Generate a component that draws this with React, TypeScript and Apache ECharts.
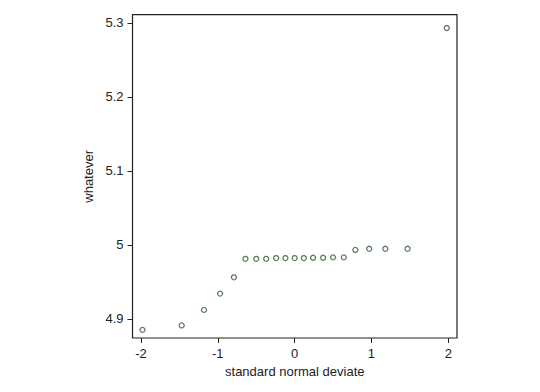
import React, { useEffect, useRef } from "react";
import * as echarts from "echarts";

const deviates = [-1.98, -1.47, -1.18, -0.97, -0.79, -0.64, -0.5, -0.37, -0.24, -0.12, 0, 0.12, 0.24, 0.37, 0.5, 0.64, 0.79, 0.97, 1.18, 1.47, 1.98];
const values = [4.885, 4.891, 4.912, 4.934, 4.956, 4.981, 4.981, 4.981, 4.982, 4.982, 4.982, 4.982, 4.9825, 4.9825, 4.983, 4.983, 4.993, 4.9946, 4.9946, 4.9946, 5.293];
const xTicks = [-2, -1, 0, 1, 2];
const yTicks = [4.9, 5, 5.1, 5.2, 5.3];

export default function App() {
  const ref = useRef<HTMLDivElement>(null);
  useEffect(() => {
    document.body.style.margin = "0";
    const chart = echarts.init(ref.current!, null, { renderer: "svg" });
    const font = "Liberation Sans, Arial, sans-serif";
    chart.setOption({
      animation: false,
      backgroundColor: "#fff",
      grid: { left: 132.5, right: 83, top: 14.7, bottom: 54, show: true, borderColor: "#222", borderWidth: 1.2, containLabel: false },
      xAxis: {
        type: "value",
        min: -2.11,
        max: 2.113,
        name: "standard normal deviate",
        nameLocation: "middle",
        nameGap: 23,
        nameTextStyle: { fontSize: 13, color: "#222", fontFamily: font },
        axisLine: { show: false, onZero: false },
        splitLine: { show: false },
        axisTick: { show: true, length: 5, lineStyle: { color: "#222" }, customValues: xTicks },
        axisLabel: { fontSize: 13, color: "#222", fontFamily: font, margin: 9, customValues: xTicks },
      },
      yAxis: {
        type: "value",
        min: 4.874,
        max: 5.311,
        name: "whatever",
        nameLocation: "middle",
        nameGap: 34,
        nameTextStyle: { fontSize: 13, color: "#222", fontFamily: font },
        axisLine: { show: false, onZero: false },
        splitLine: { show: false },
        axisTick: { show: true, length: 5, lineStyle: { color: "#222" }, customValues: yTicks },
        axisLabel: { fontSize: 13, color: "#222", fontFamily: font, margin: 9, customValues: yTicks },
      },
      series: [
        {
          type: "scatter",
          data: deviates.map((d, i) => [d, values[i]]),
          symbol: "circle",
          symbolSize: 5,
          itemStyle: { color: "#fff", borderColor: "#2e5e2a", borderWidth: 1.3 },
        },
      ],
    });
    return () => chart.dispose();
  }, []);
  return <div ref={ref} style={{ width: 540, height: 392 }} />;
}
